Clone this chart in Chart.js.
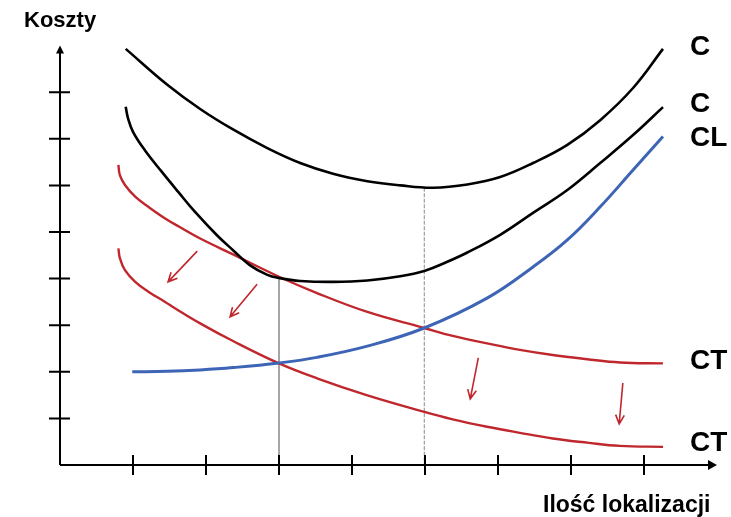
<!DOCTYPE html>
<html>
<head>
<meta charset="utf-8">
<script src="https://cdn.jsdelivr.net/npm/chart.js@4/dist/chart.umd.min.js"></script>
<style>
  html, body { margin: 0; padding: 0; background: #ffffff; }
  #wrap { position: relative; width: 731px; height: 517px; }
</style>
</head>
<body>
<div id="wrap"><canvas id="c" width="731" height="517"></canvas></div>
<script>
// ---- data (in axis units) ----
const xTicks = [1, 2, 3, 4, 5, 6, 7, 8];
const yTicks = [1, 2, 3, 4, 5, 6, 7, 8];

const cUpperX = [0.90, 1.47, 1.92, 2.37, 2.84, 3.29, 3.74, 4.21, 4.66, 5.11, 5.58, 6.03, 6.48, 6.95, 7.40, 7.85, 8.26];
const cUpperY = [8.93, 8.16, 7.64, 7.20, 6.80, 6.48, 6.25, 6.09, 6.00, 5.95, 6.02, 6.18, 6.48, 6.87, 7.40, 8.09, 8.93];

const cLowerX = [0.90, 0.93, 1.00, 1.16, 1.39, 1.62, 1.85, 2.15, 2.37, 2.60, 2.84, 3.01, 3.29, 3.74, 4.21, 4.66, 5.00, 5.29, 5.58, 6.03, 6.48, 6.95, 7.40, 7.85, 8.26];
const cLowerY = [7.69, 7.45, 7.15, 6.76, 6.30, 5.86, 5.43, 4.93, 4.61, 4.29, 4.08, 4.01, 3.95, 3.93, 3.96, 4.05, 4.17, 4.35, 4.56, 4.94, 5.41, 5.90, 6.48, 7.08, 7.68];

const clX = [0.99, 1.47, 1.92, 2.37, 3.00, 3.52, 4.21, 4.99, 5.85, 6.48, 6.95, 7.40, 7.85, 8.26];
const clY = [2.00, 2.01, 2.04, 2.09, 2.19, 2.31, 2.55, 2.94, 3.58, 4.25, 4.83, 5.54, 6.33, 7.05];

const ctUpperX = [0.80, 0.82, 0.89, 1.03, 1.21, 1.44, 1.67, 1.92, 2.37, 3.00, 3.52, 4.20, 4.99, 5.38, 5.85, 6.30, 6.75, 7.22, 7.67, 8.26];
const ctUpperY = [6.44, 6.22, 6.01, 5.76, 5.54, 5.29, 5.08, 4.86, 4.52, 4.04, 3.69, 3.29, 2.94, 2.77, 2.61, 2.47, 2.36, 2.27, 2.20, 2.18];

const ctLowerX = [0.80, 0.82, 0.89, 1.03, 1.21, 1.44, 1.58, 1.92, 2.37, 3.00, 3.52, 4.20, 4.99, 5.38, 5.85, 6.30, 6.75, 7.22, 7.67, 8.26];
const ctLowerY = [4.65, 4.44, 4.18, 3.93, 3.72, 3.50, 3.36, 3.04, 2.66, 2.18, 1.86, 1.50, 1.14, 0.98, 0.82, 0.69, 0.57, 0.48, 0.41, 0.39];

const guide1X = [3.00, 3.00];
const guide1Y = [4.01, 0];
const guide2X = [4.99, 4.99];
const guide2Y = [5.95, 0];

// arrows: tail -> tip
const arrowsFrom = [[1.88, 4.59], [2.70, 3.88], [5.73, 2.30], [7.71, 1.76]];
const arrowsTo   = [[1.48, 3.93], [2.33, 3.18], [5.62, 1.42], [7.66, 0.88]];

const seriesLabels = ['C', 'C', 'CL', 'CT', 'CT'];
const yAxisTitle = 'Koszty';
const xAxisTitle = 'Ilość lokalizacji';

// ---- layout / style ----
const RED = '#c0272d';
const BLUE = '#3d64b5';
const BLACK = '#000000';
const labelPx = [[690, 47], [690, 104], [690, 138], [690, 361], [690, 443]];

function pts(xs, ys) { return xs.map((x, i) => ({ x: x, y: ys[i] })); }

function curve(label, xs, ys, color, w) {
  return {
    label: label, data: pts(xs, ys), showLine: true, borderColor: color, backgroundColor: color,
    borderWidth: w, pointRadius: 0, tension: 0.4, fill: false, clip: false
  };
}

const datasets = [
  curve(seriesLabels[0], cUpperX, cUpperY, BLACK, 2.6),
  curve(seriesLabels[1], cLowerX, cLowerY, BLACK, 2.6),
  curve(seriesLabels[2], clX, clY, BLUE, 3),
  curve(seriesLabels[3], ctUpperX, ctUpperY, RED, 2.4),
  curve(seriesLabels[4], ctLowerX, ctLowerY, RED, 2.4),
  { label: 'g1', data: pts(guide1X, guide1Y), showLine: true, borderColor: '#9a9a9a', borderWidth: 1, pointRadius: 0, clip: false, order: 10 },
  { label: 'g2', data: pts(guide2X, guide2Y), showLine: true, borderColor: '#8a8a8a', borderWidth: 1, borderDash: [4, 1.5], pointRadius: 0, clip: false, order: 10 }
];

const decor = {
  id: 'decor',
  afterDatasetsDraw(chart) {
    const ctx = chart.ctx;
    const xs = chart.scales.x, ys = chart.scales.y;
    const x0 = xs.getPixelForValue(0), y0 = ys.getPixelForValue(0);
    const xEnd = xs.getPixelForValue(9), yEnd = ys.getPixelForValue(9);
    ctx.save();
    ctx.strokeStyle = '#000'; ctx.fillStyle = '#000'; ctx.lineWidth = 2;
    // axes
    ctx.beginPath();
    ctx.moveTo(x0, y0); ctx.lineTo(x0, yEnd + 6);
    ctx.moveTo(x0, y0); ctx.lineTo(xEnd - 7, y0);
    ctx.stroke();
    // arrowheads
    ctx.beginPath();
    ctx.moveTo(x0, yEnd); ctx.lineTo(x0 - 4, yEnd + 8); ctx.lineTo(x0 + 4, yEnd + 8); ctx.closePath(); ctx.fill();
    ctx.beginPath();
    ctx.moveTo(xEnd, y0); ctx.lineTo(xEnd - 9, y0 - 5); ctx.lineTo(xEnd - 9, y0 + 5); ctx.closePath(); ctx.fill();
    // ticks
    ctx.beginPath();
    yTicks.forEach(v => { const p = ys.getPixelForValue(v); ctx.moveTo(x0 - 11, p); ctx.lineTo(x0 + 10, p); });
    xTicks.forEach(v => { const p = xs.getPixelForValue(v); ctx.moveTo(p, y0 - 10); ctx.lineTo(p, y0 + 10); });
    ctx.stroke();
    // arrows
    ctx.strokeStyle = RED; ctx.lineWidth = 1.6;
    arrowsFrom.forEach((f, i) => {
      const t = arrowsTo[i];
      const ax = xs.getPixelForValue(f[0]), ay = ys.getPixelForValue(f[1]);
      const bx = xs.getPixelForValue(t[0]), by = ys.getPixelForValue(t[1]);
      const ang = Math.atan2(by - ay, bx - ax);
      const h = 10, s = 0.45;
      ctx.beginPath();
      ctx.moveTo(ax, ay); ctx.lineTo(bx, by);
      ctx.moveTo(bx - h * Math.cos(ang - s), by - h * Math.sin(ang - s));
      ctx.lineTo(bx, by);
      ctx.lineTo(bx - h * Math.cos(ang + s), by - h * Math.sin(ang + s));
      ctx.stroke();
    });
    ctx.restore();
  },
  afterDraw(chart) {
    const ctx = chart.ctx;
    ctx.save();
    ctx.fillStyle = '#000';
    ctx.textBaseline = 'middle';
    ctx.textAlign = 'left';
    ctx.font = 'bold 28px "Liberation Sans", Arial, sans-serif';
    seriesLabels.forEach((t, i) => ctx.fillText(t, labelPx[i][0], labelPx[i][1]));
    ctx.textBaseline = 'alphabetic';
    ctx.font = 'bold 22px "Liberation Sans", Arial, sans-serif';
    ctx.fillText(yAxisTitle, 24, 27);
    ctx.font = 'bold 23px "Liberation Sans", Arial, sans-serif';
    ctx.fillText(xAxisTitle, 543, 512);
    ctx.restore();
  }
};

new Chart(document.getElementById('c'), {
  type: 'scatter',
  data: { datasets: datasets },
  options: {
    responsive: false,
    animation: false,
    devicePixelRatio: 1,
    layout: { padding: { left: 60, right: 14, top: 45.6, bottom: 52 } },
    plugins: { legend: { display: false }, tooltip: { enabled: false }, title: { display: false } },
    scales: {
      x: { type: 'linear', min: 0, max: 9, display: false },
      y: { type: 'linear', min: 0, max: 9, display: false }
    }
  },
  plugins: [decor]
});
</script>
</body>
</html>
